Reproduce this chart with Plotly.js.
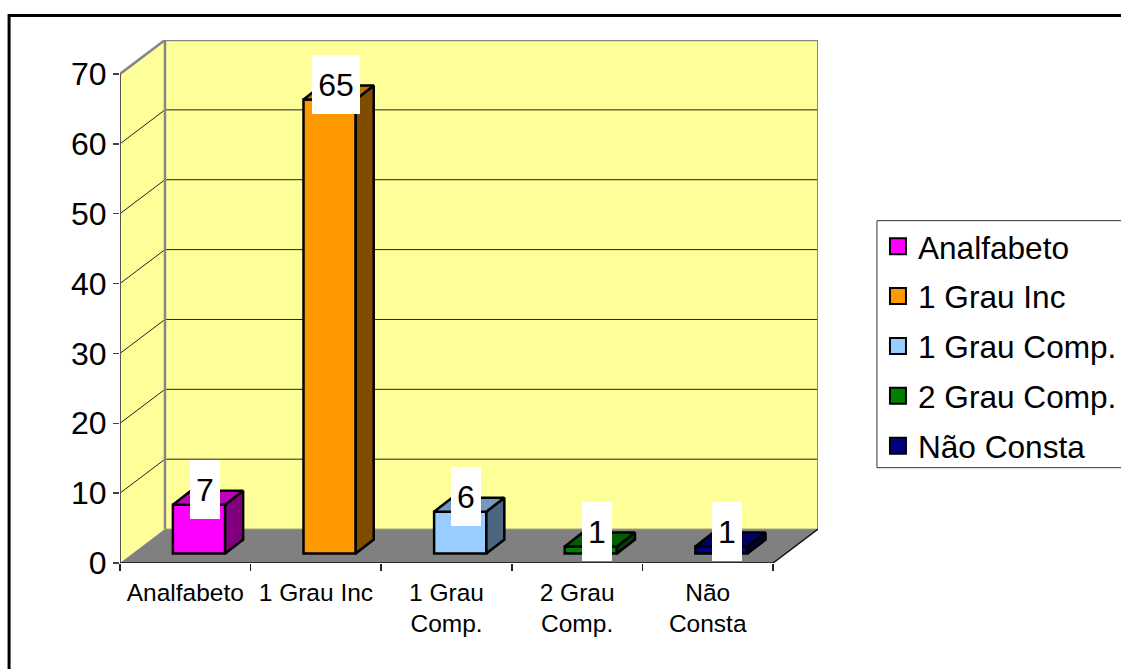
<!DOCTYPE html>
<html><head><meta charset="utf-8">
<script src="https://cdn.plot.ly/plotly-3.0.1.min.js"></script>
<style>html,body{margin:0;padding:0;background:#fff;overflow:hidden}</style>
</head><body><div id="chart" style="width:1121px;height:669px"></div>
<script>
const categories = ['Analfabeto', '1 Grau Inc', '1 Grau Comp.', '2 Grau Comp.', 'Não Consta'];
const axisLabels = ['Analfabeto', '1 Grau Inc', '1 Grau<br>Comp.', '2 Grau<br>Comp.', 'Não<br>Consta'];
const values = [7, 65, 6, 1, 1];
const frontColors = ['#FF00FF', '#FF9900', '#99CCFF', '#008000', '#000080'];
const topColors = ['#BF00BF', '#BF7300', '#7399BF', '#006000', '#000060'];
const sideColors = ['#800080', '#804D00', '#4D6680', '#004000', '#000040'];
const yTicks = [0, 10, 20, 30, 40, 50, 60, 70];

const pxX = 130.7, pxY = 7;
const L = 119.5, T = 39.5, R = 818, B = 563.5;
const wallDX = 45 / pxX, wallDY = 34 / pxY;
const barW = 0.4, barOff = 0.605, barBase = 1.35;
const barDX = 18 / pxX, barDY = 14 / pxY;
const nCat = categories.length, yMax = 70;
const font = 'Liberation Sans, Arial, sans-serif';

const poly = pts => 'M' + pts.map(p => p[0] + ',' + p[1]).join('L') + 'Z';
const line = (a, b, color, width) => ({type:'line', layer:'below', xref:'x', yref:'y', x0:a[0], y0:a[1], x1:b[0], y1:b[1], line:{color, width}});
const fill = (pts, color) => ({type:'path', layer:'below', xref:'x', yref:'y', path:poly(pts), fillcolor:color, line:{width:0}});

const shapes = [
  fill([[wallDX,wallDY],[nCat+wallDX,wallDY],[nCat+wallDX,yMax+wallDY],[wallDX,yMax+wallDY]], '#FFFF99'),
  fill([[0,0],[0,yMax],[wallDX,yMax+wallDY],[wallDX,wallDY]], '#FFFF99'),
  fill([[0,0],[nCat,0],[nCat+wallDX,wallDY],[wallDX,wallDY]], '#808080')
];
yTicks.filter(v => v > 0 && v < yMax).forEach(v => {
  shapes.push(line([wallDX, v+wallDY], [nCat+wallDX, v+wallDY], '#222', 1));
  shapes.push(line([0, v], [wallDX, v+wallDY], '#222', 1));
});
shapes.push(line([wallDX, wallDY], [wallDX, yMax+wallDY], '#868686', 2.5));
shapes.push(line([wallDX, yMax+wallDY], [nCat+wallDX, yMax+wallDY], '#868686', 2.5));
shapes.push(line([nCat+wallDX, wallDY], [nCat+wallDX, yMax+wallDY], '#868686', 2));
shapes.push(line([wallDX, wallDY], [nCat+wallDX, wallDY], '#A0A070', 1));
shapes.push(line([0, yMax], [wallDX, yMax+wallDY], '#868686', 2.5));
shapes.push(line([0, 0], [0, yMax], '#555', 2));
shapes.push(line([nCat, 0], [nCat+wallDX, wallDY], '#111', 1.5));
shapes.push(line([0, 0], [nCat, 0], '#111', 1.5));
// outer chart frame, running off the right and bottom of the window
const pw = R - L, ph = B - T;
shapes.push({type:'path', layer:'above', xref:'paper', yref:'paper',
  path:`M${(8.5-L)/pw},${(B-740)/ph}L${(8.5-L)/pw},${(B-15)/ph}L${(1200-L)/pw},${(B-15)/ph}`,
  line:{color:'#000', width:3}});
// legend frame
shapes.push({type:'rect', layer:'above', xref:'paper', yref:'paper',
  x0:(877-L)/pw, x1:(1200-L)/pw, y0:(B-468)/ph, y1:(B-220.5)/ph,
  fillcolor:'#fff', line:{color:'#333', width:1}});

const traces = [{
  type:'bar', x:values.map((_, i) => i + barOff), y:values, base:barBase, width:barW,
  marker:{color:frontColors, line:{color:'#000', width:2.5}}, showlegend:false, hoverinfo:'skip'
}];
values.forEach((v, i) => {
  const x0 = i + barOff - barW/2, x1 = i + barOff + barW/2;
  const y0 = barBase, y1 = barBase + v;
  traces.push({type:'scatter', mode:'lines', fill:'toself', fillcolor:sideColors[i], showlegend:false, hoverinfo:'skip',
    line:{color:'#000', width:2.5},
    x:[x1, x1+barDX, x1+barDX, x1, x1], y:[y0, y0+barDY, y1+barDY, y1, y0]});
  traces.push({type:'scatter', mode:'lines', fill:'toself', fillcolor:topColors[i], showlegend:false, hoverinfo:'skip',
    line:{color:'#000', width:2.5},
    x:[x0, x0+barDX, x1+barDX, x1, x0], y:[y1, y1+barDY, y1+barDY, y1, y1]});
});
categories.forEach((c, i) => {
  traces.push({type:'scatter', mode:'markers', x:[null], y:[null], name:c, legendgroup:c, hoverinfo:'skip',
    marker:{symbol:'square', size:16, color:frontColors[i], line:{color:'#000', width:2}}});
});

const annotations = values.map((v, i) => ({
  x:i + barOff, y:barBase + v, xref:'x', yref:'y', xshift:6, yshift:15,
  text:String(v), showarrow:false, bgcolor:'#fff', borderpad:0, borderwidth:0,
  width:String(v).length > 1 ? 48 : 30, height:59, align:'center', valign:'middle',
  font:{family:font, size:32, color:'#000'}
}));

const layout = {
  width:1121, height:669, autosize:false,
  margin:{l:L, r:1121-R, t:T, b:669-B, pad:0, autoexpand:false},
  paper_bgcolor:'#fff', plot_bgcolor:'rgba(0,0,0,0)',
  showlegend:true,
  legend:{x:(878-L)/pw, xanchor:'left', y:(B-219)/ph, yanchor:'top', bgcolor:'rgba(0,0,0,0)', borderwidth:0,
    font:{family:font, size:31.6, color:'#000'}, tracegroupgap:5.8, itemsizing:'trace', traceorder:'grouped'},
  xaxis:{range:[0, (R-L)/pxX], showgrid:false, zeroline:false, showline:false, fixedrange:true, automargin:false,
    tickmode:'array', tickvals:axisLabels.map((_, i) => i + 0.5), ticktext:axisLabels, ticks:'', ticklabelstandoff:12,
    tickfont:{family:font, size:24.5, color:'#000'}, tickangle:0,
    minor:{tickmode:'array', tickvals:Array.from({length:nCat+1}, (_, i) => i), ticks:'outside', ticklen:7, tickwidth:1.5, tickcolor:'#222', showgrid:false}},
  yaxis:{range:[0, (B-T)/pxY], showgrid:false, zeroline:false, showline:false, fixedrange:true, automargin:false,
    tickmode:'array', tickvals:yTicks, ticks:'outside', ticklen:6, tickwidth:1.5, tickcolor:'#444', ticklabelstandoff:0,
    tickfont:{family:font, size:32, color:'#000'}},
  shapes, annotations
};
Plotly.newPlot('chart', traces, layout, {displayModeBar:false, staticPlot:true});
</script></body></html>
